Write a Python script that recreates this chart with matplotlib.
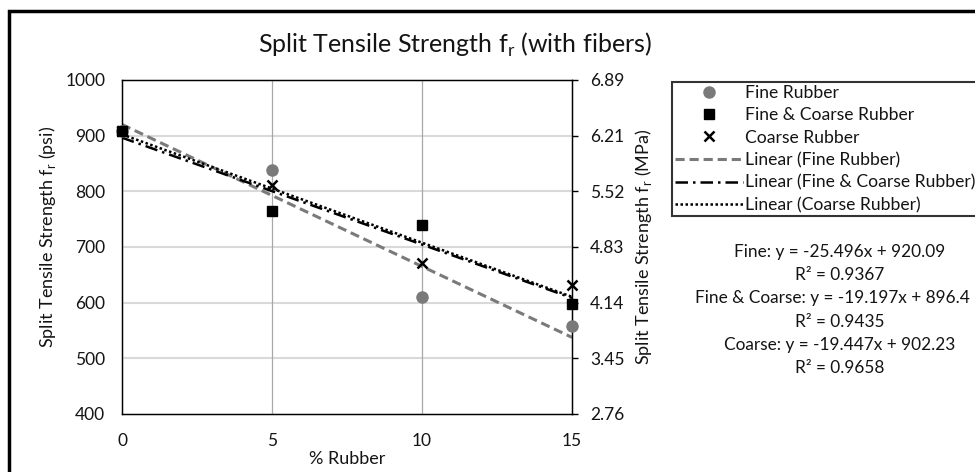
"""
Split tensile strength vs % rubber (with fibers)
"""
import numpy as np
import matplotlib
matplotlib.use("Agg")
import matplotlib.pyplot as plt
from matplotlib.patches import Rectangle
from matplotlib.lines import Line2D

plt.rcParams['font.family'] = ['Lato', 'DejaVu Sans']
plt.rcParams['mathtext.fontset'] = 'custom'
plt.rcParams['mathtext.rm'] = 'Lato'

# data (psi)
rubber = [0, 5, 10, 15]
fine = [909, 838, 610, 558]
fine_coarse = [908, 765, 740, 597]
coarse = [909, 812, 672, 632]

# trend line coefficients as printed on the chart (slope, intercept)
fit_fine = [-25.496, 920.09]
fit_fine_coarse = [-19.197, 896.4]
fit_coarse = [-19.447, 902.23]
r2 = [0.9367, 0.9435, 0.9658]

psi_ticks = [400, 500, 600, 700, 800, 900, 1000]
mpa_labels = ['2.76', '3.45', '4.14', '4.83', '5.52', '6.21', '6.89']
x_ticks = [0, 5, 10, 15]

gray = '#7a7a7a'
txt = '#141414'
fs_tick = 12.5
fs_lab = 13
fs_leg = 12.6

fig = plt.figure(figsize=(9.75, 4.72), dpi=100)
ax = fig.add_axes([122/975, 1 - 414/472, 450/975, 334/472])

# grid
for v in psi_ticks[1:-1]:
    ax.axhline(v, color='#d9d9d9', lw=1.5, zorder=0)
for v in x_ticks[1:-1]:
    ax.axvline(v, color='#a8a8a8', lw=0.9, zorder=0)

xx = np.array([0, 15])
ax.plot(xx, fit_fine[0]*xx + fit_fine[1], color=gray, lw=2.2,
        dashes=(3, 1.6), zorder=2)
ax.plot(xx, fit_fine_coarse[0]*xx + fit_fine_coarse[1], color='black', lw=1.8,
        dashes=(5, 2, 1, 2), zorder=2)
ax.plot(xx, fit_coarse[0]*xx + fit_coarse[1], color='black', lw=1.8,
        dashes=(1, 1), zorder=2)

ax.plot(rubber, fine, 'o', color=gray, ms=8, mec=gray, zorder=3, clip_on=False)
ax.plot(rubber, fine_coarse, 's', color='black', ms=7.5, zorder=4, clip_on=False)
ax.plot(rubber, coarse, 'x', color='black', ms=7.5, mew=1.8, zorder=5, clip_on=False)

ax.set_xlim(0, 15)
ax.set_ylim(400, 1000)
ax.set_xticks(x_ticks)
ax.set_yticks(psi_ticks)
ax.tick_params(axis='both', length=0, labelsize=fs_tick, labelcolor=txt)
ax.tick_params(axis='x', pad=14)
ax.tick_params(axis='y', pad=12)
for s in ax.spines.values():
    s.set_color('black')
    s.set_linewidth(1.0)
ax.set_xlabel('% Rubber', fontsize=fs_lab, color=txt, labelpad=1)
ax.set_ylabel('Split Tensile Strength f$_\\mathregular{r}$ (psi)', fontsize=fs_lab,
              color=txt, va='center')
ax.yaxis.set_label_coords((48 - 122)/450, (414 - 237)/334)

ax2 = ax.twinx()
ax2.set_ylim(400, 1000)
ax2.set_yticks(psi_ticks)
ax2.set_yticklabels(mpa_labels)
ax2.tick_params(axis='y', length=4, width=1, direction='out', pad=9,
                labelsize=fs_tick, labelcolor=txt)
ax2.set_ylabel('Split Tensile Strength f$_\\mathregular{r}$ (MPa)', fontsize=fs_lab,
               color=txt, va='center')
ax2.yaxis.set_label_coords((644 - 122)/450, 0.5)
ax2.set_zorder(ax.get_zorder() - 1)
ax.patch.set_visible(False)

fig.text(455/975, 1 - 45/472, 'Split Tensile Strength f$_\\mathregular{r}$ (with fibers)',
         ha='center', va='center', fontsize=18, color=txt)

handles = [
    Line2D([], [], ls='none', marker='o', color=gray, ms=8),
    Line2D([], [], ls='none', marker='s', color='black', ms=7),
    Line2D([], [], ls='none', marker='x', color='black', ms=6.5, mew=1.8),
    Line2D([], [], color=gray, lw=2.2, dashes=(3, 1.6)),
    Line2D([], [], color='black', lw=1.8, dashes=(5, 2, 1, 2)),
    Line2D([], [], color='black', lw=1.8, dashes=(1, 1)),
]
labels = ['Fine Rubber', 'Fine & Coarse Rubber', 'Coarse Rubber',
          'Linear (Fine Rubber)', 'Linear (Fine & Coarse Rubber)',
          'Linear (Coarse Rubber)']
leg = fig.legend(handles, labels, loc='upper left',
                 bbox_to_anchor=(672/975, 1 - 82/472), fontsize=fs_leg,
                 frameon=True, fancybox=False, edgecolor='black',
                 handlelength=3.9, handletextpad=0.1, labelspacing=0.37,
                 borderpad=0.15, borderaxespad=0)
leg.get_frame().set_linewidth(1.5)
for t in leg.get_texts():
    t.set_color(txt)

eq_lines = [
    'Fine: y = %.3fx + %.2f' % (fit_fine[0], fit_fine[1]),
    'R² = %.4f' % r2[0],
    'Fine & Coarse: y = %.3fx + %.1f' % (fit_fine_coarse[0], fit_fine_coarse[1]),
    'R² = %.4f' % r2[1],
    'Coarse: y = %.3fx + %.2f' % (fit_coarse[0], fit_coarse[1]),
    'R² = %.4f' % r2[2],
]
eq_x = [840, 840, 832, 840, 840, 840]
for i, line in enumerate(eq_lines):
    fig.text(eq_x[i]/975, 1 - (252 + 23.2*i)/472, line, ha='center', va='center',
             fontsize=12.4, color=txt)

# outer chart border
fig.patches.append(Rectangle((9/975, -0.05), 1.1, 1 - 11/472 + 0.05,
                             transform=fig.transFigure, fill=False,
                             edgecolor='black', lw=2.5))

fig.savefig('out.png', dpi=100)
